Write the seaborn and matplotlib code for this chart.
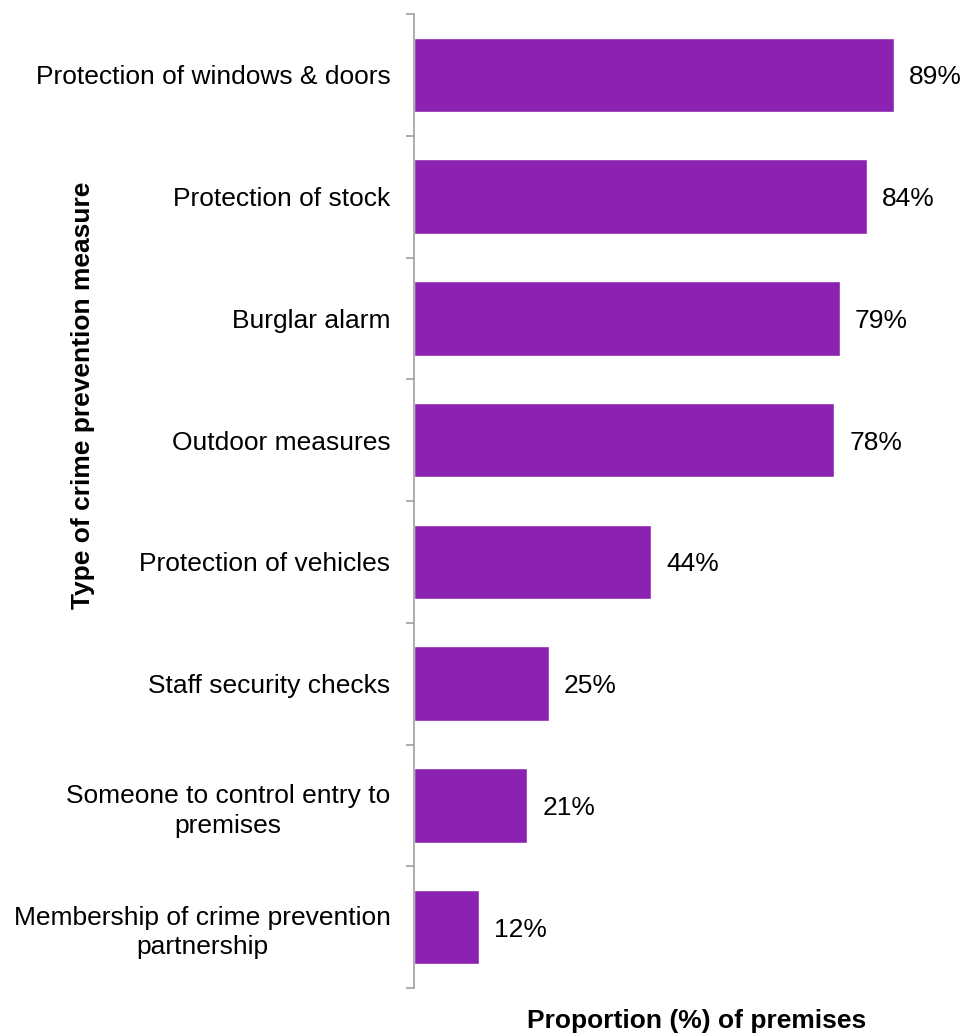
import matplotlib
matplotlib.use("Agg")
import matplotlib.pyplot as plt
import seaborn as sns
import pandas as pd
import numpy as np

categories = [
    "Protection of windows & doors",
    "Protection of stock",
    "Burglar alarm",
    "Outdoor measures",
    "Protection of vehicles",
    "Staff security checks",
    "Someone to control entry to\npremises",
    "Membership of crime prevention\npartnership",
]
values = [89, 84, 79, 78, 44, 25, 21, 12]

sns.set_theme(style="white")
plt.rcParams["font.family"] = ["Liberation Sans", "DejaVu Sans"]
plt.rcParams["text.color"] = "black"
plt.rcParams["ytick.labelcolor"] = "black"

FS = 19

df = pd.DataFrame({"measure": categories, "pct": values})

fig = plt.figure(figsize=(9.63, 10.35), dpi=100)
ax = fig.add_axes([414 / 963, 1 - 988 / 1035, 539 / 963, 974 / 1035])

sns.barplot(data=df, x="pct", y="measure", orient="h", color="#8C22B1",
            saturation=1, width=0.61, ax=ax)

ax.set_xlim(0, 100)
ax.set_ylim(len(categories) - 0.5, -0.5)

for i, v in enumerate(values):
    ax.text(v + 2.8, i, f"{v}%", va="center_baseline", ha="left",
            fontsize=FS, color="black")

for s in ["top", "right", "bottom"]:
    ax.spines[s].set_visible(False)
ax.spines["left"].set_color("#a0a0a0")
ax.spines["left"].set_linewidth(1.2)

ax.set_xticks([])
ax.set_yticks(range(len(categories)))
ax.set_yticklabels(categories, fontsize=FS, multialignment="center",
                   linespacing=1.3, color="black")
ax.tick_params(axis="y", which="major", length=0, pad=17)
ax.set_yticks(np.arange(-0.5, len(categories)), minor=True)
ax.tick_params(axis="y", which="minor", length=6, width=1.2, color="#a0a0a0", left=True)

ax.set_xlabel("")
ax.set_ylabel("")
fig.text(697 / 963, 1 - 1021 / 1035, "Proportion (%) of premises", ha="center",
         va="center", fontsize=FS, fontweight="bold", color="black")
fig.text(83 / 963, 1 - 395 / 1035, "Type of crime prevention measure", ha="center",
         va="center", rotation=90, fontsize=FS, fontweight="bold", color="black")

fig.savefig("out.png", dpi=100)
